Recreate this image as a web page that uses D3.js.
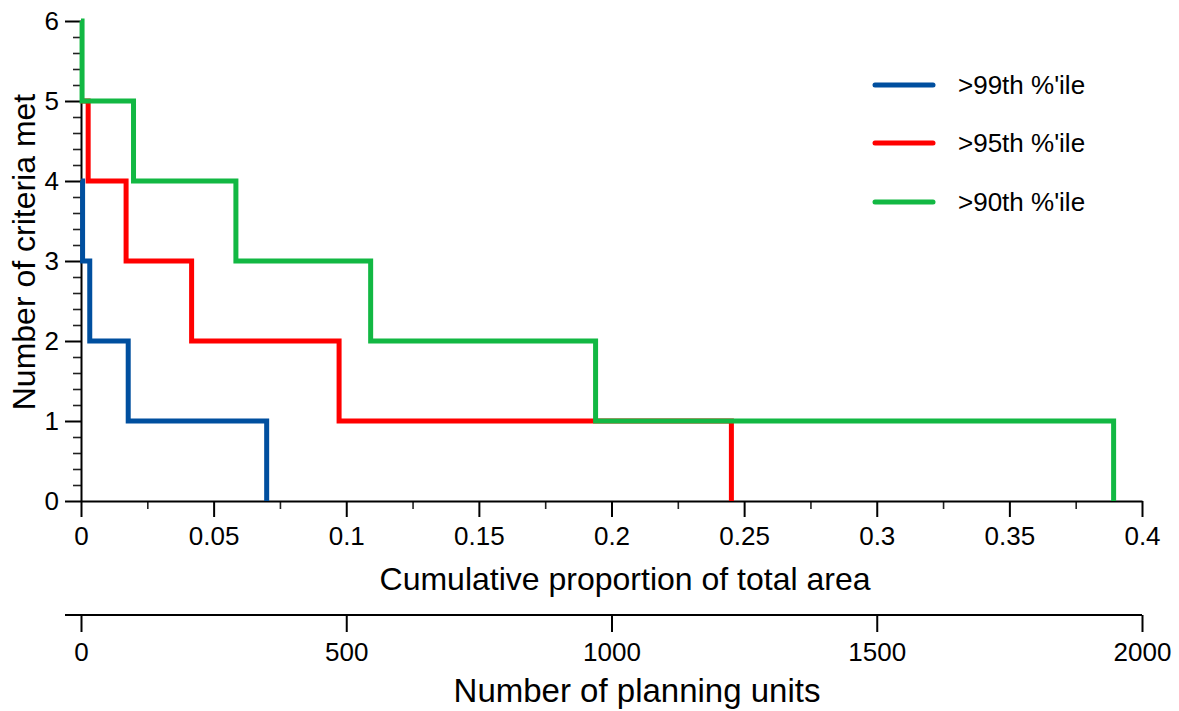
<!DOCTYPE html>
<html>
<head>
<meta charset="utf-8">
<script src="https://cdn.jsdelivr.net/npm/d3@7"></script>
<style>
  html, body { margin: 0; padding: 0; background: #fff; }
  svg { display: block; font-family: "Liberation Sans", Arial, sans-serif; }
  .tick text { fill: #000; }
</style>
</head>
<body>
<svg id="chart" width="1179" height="711"></svg>
<script>
// Step series: x = cumulative proportion where each criteria level begins
const blueX  = [0, 0.0006, 0.0033, 0.0178, 0.0700];
const blueY  = [4, 3, 2, 1, 0];
const redX   = [0, 0.0027, 0.0170, 0.0417, 0.0973, 0.2452];
const redY   = [5, 4, 3, 2, 1, 0];
const greenX = [0, 0.0004, 0.0198, 0.0584, 0.1092, 0.1940, 0.3893];
const greenY = [6, 5, 4, 3, 2, 1, 0];

const seriesNames  = [">99th %'ile", ">95th %'ile", ">90th %'ile"];
const seriesColors = ["#004f9f", "#ff0000", "#12b843"];

const xTicks     = [0, 0.05, 0.1, 0.15, 0.2, 0.25, 0.3, 0.35, 0.4];
const xTickText  = ["0", "0.05", "0.1", "0.15", "0.2", "0.25", "0.3", "0.35", "0.4"];
const yTicks     = [0, 1, 2, 3, 4, 5, 6];
const unitTicks  = [0, 500, 1000, 1500, 2000];

const svg = d3.select("#chart");

const x = d3.scaleLinear().domain([0, 0.4]).range([81, 1142]);
const y = d3.scaleLinear().domain([0, 6]).range([501, 21]);
const units = d3.scaleLinear().domain([0, 2000]).range([81, 1142]);

const tickFont = 26;

// Minor ticks
const yMinor = d3.range(0, 6.001, 0.2).filter(v => Math.abs(v - Math.round(v)) > 1e-6);
const xMinor = d3.range(0.025, 0.4, 0.05);

svg.append("g")
  .attr("transform", "translate(81,0)")
  .call(d3.axisLeft(y).tickValues(yMinor).tickSize(8).tickFormat(""))
  .call(g => g.select(".domain").remove())
  .call(g => g.selectAll("line").attr("stroke", "#222").attr("stroke-width", 1.6));

svg.append("g")
  .attr("transform", "translate(0,501)")
  .call(d3.axisBottom(x).tickValues(xMinor).tickSize(8).tickFormat(""))
  .call(g => g.select(".domain").remove())
  .call(g => g.selectAll("line").attr("stroke", "#222").attr("stroke-width", 1.6));

// Major axes
svg.append("g")
  .attr("transform", "translate(81,0)")
  .call(d3.axisLeft(y).tickValues(yTicks).tickSize(16).tickSizeOuter(0).tickPadding(6).tickFormat(d3.format("d")))
  .call(g => g.select(".domain").attr("stroke", "#000").attr("stroke-width", 2))
  .call(g => g.selectAll("line").attr("stroke", "#000").attr("stroke-width", 2))
  .call(g => g.selectAll("text").attr("font-size", tickFont).attr("font-family", "Liberation Sans, Arial, sans-serif"));

svg.append("g")
  .attr("transform", "translate(0,501)")
  .call(d3.axisBottom(x).tickValues(xTicks).tickSize(16).tickSizeOuter(0).tickPadding(10)
        .tickFormat((d, i) => xTickText[i]))
  .call(g => g.select(".domain").attr("stroke", "#000").attr("stroke-width", 2))
  .call(g => g.selectAll("line").attr("stroke", "#000").attr("stroke-width", 2))
  .call(g => g.selectAll("text").attr("font-size", tickFont).attr("font-family", "Liberation Sans, Arial, sans-serif"));

// Secondary axis: number of planning units
const unitAxis = svg.append("g")
  .attr("transform", "translate(0,615)")
  .call(d3.axisBottom(units).tickValues(unitTicks).tickSize(17).tickSizeOuter(0).tickPadding(11).tickFormat(d3.format("d")))
  .call(g => g.select(".domain").remove())
  .call(g => g.selectAll("line").attr("stroke", "#000").attr("stroke-width", 2))
  .call(g => g.selectAll("text").attr("font-size", tickFont).attr("font-family", "Liberation Sans, Arial, sans-serif"));
unitAxis.append("line")
  .attr("x1", 65).attr("x2", units(2000))
  .attr("y1", 0).attr("y2", 0)
  .attr("stroke", "#000").attr("stroke-width", 2);

// Axis titles
svg.append("text")
  .attr("x", 625).attr("y", 590)
  .attr("text-anchor", "middle").attr("font-size", 32)
  .text("Cumulative proportion of total area");

svg.append("text")
  .attr("x", 637).attr("y", 702)
  .attr("text-anchor", "middle").attr("font-size", 33)
  .text("Number of planning units");

svg.append("text")
  .attr("transform", "translate(35,252) rotate(-90)")
  .attr("text-anchor", "middle").attr("font-size", 32)
  .text("Number of criteria met");

// Step lines
const line = d3.line()
  .x(d => x(d[0]))
  .y(d => y(d[1]))
  .curve(d3.curveStepAfter);

const series = [
  d3.zip(blueX, blueY),
  d3.zip(redX, redY),
  d3.zip(greenX, greenY)
];

svg.append("g").selectAll("path")
  .data(series)
  .join("path")
  .attr("d", line)
  .attr("fill", "none")
  .attr("stroke", (d, i) => seriesColors[i])
  .attr("stroke-width", 5)
  .attr("stroke-linejoin", "miter")
  .attr("stroke-linecap", "butt");

// Legend
const legendY = [85, 143, 202];
const legend = svg.append("g");
legend.selectAll("line")
  .data(seriesNames)
  .join("line")
  .attr("x1", 875).attr("x2", 933)
  .attr("y1", (d, i) => legendY[i]).attr("y2", (d, i) => legendY[i])
  .attr("stroke", (d, i) => seriesColors[i])
  .attr("stroke-width", 5)
  .attr("stroke-linecap", "round");
legend.selectAll("text")
  .data(seriesNames)
  .join("text")
  .attr("x", 958)
  .attr("y", (d, i) => legendY[i])
  .attr("dy", "0.35em")
  .attr("font-size", tickFont)
  .text(d => d);
</script>
</body>
</html>
